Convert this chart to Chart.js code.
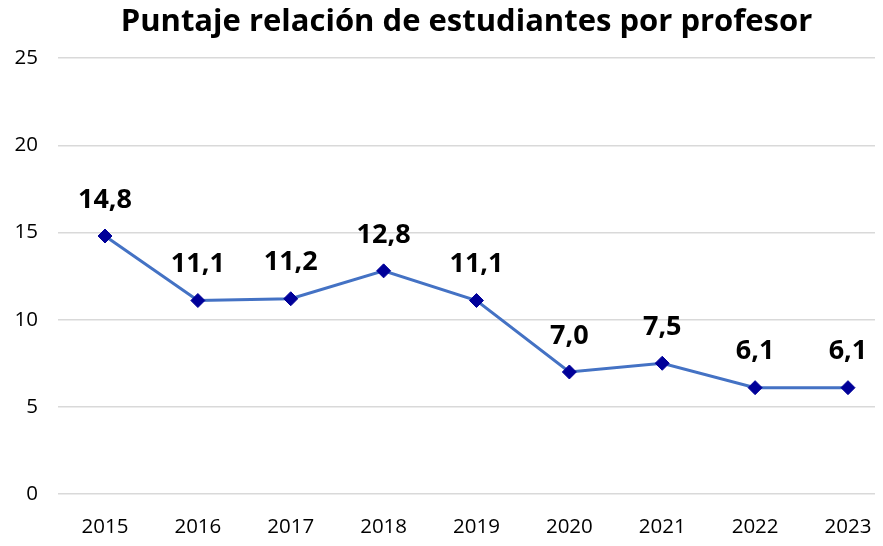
<!DOCTYPE html>
<html>
<head>
<meta charset="utf-8">
<script src="https://cdn.jsdelivr.net/npm/chart.js@4"></script>
<style>
  html, body { margin: 0; padding: 0; background: #fff; }
  #wrap { width: 883px; height: 546px; }
</style>
</head>
<body>
<div id="wrap"><canvas id="grafico"></canvas></div>
<script>
const anios = [2015, 2016, 2017, 2018, 2019, 2020, 2021, 2022, 2023];
const puntaje = [14.8, 11.1, 11.2, 12.8, 11.1, 7.0, 7.5, 6.1, 6.1];
const ticksY = [0, 5, 10, 15, 20, 25];

const fuente = "'Open Sans', Lato, sans-serif";

// etiquetas de datos encima de cada punto
const etiquetas = {
    id: "etiquetas",
    afterDatasetsDraw(chart) {
        const ctx = chart.ctx;
        const meta = chart.getDatasetMeta(0);
        ctx.save();
        ctx.font = "bold 27px " + fuente;
        ctx.fillStyle = "#000";
        ctx.textAlign = "center";
        ctx.textBaseline = "middle";
        meta.data.forEach((p, i) => {
            ctx.fillText(puntaje[i].toFixed(1).replace(".", ","), p.x, p.y - 36);
        });
        ctx.restore();
    }
};

new Chart(document.getElementById("grafico"), {
    type: "line",
    data: {
        datasets: [{
            data: anios.map((a, i) => ({ x: a, y: puntaje[i] })),
            borderColor: "#4472C4",
            borderWidth: 3,
            pointStyle: "rectRot",
            pointRadius: 7,
            pointBackgroundColor: "#000099",
            pointBorderColor: "#000099",
            pointBorderWidth: 1,
            tension: 0
        }]
    },
    options: {
        responsive: true,
        maintainAspectRatio: false,
        animation: false,
        layout: { padding: 0 },
        plugins: {
            legend: { display: false },
            tooltip: { enabled: false },
            title: {
                display: true,
                fullSize: false,
                text: "Puntaje relación de estudiantes por profesor",
                color: "#000",
                font: { family: fuente, size: 31, weight: "bold" },
                padding: { top: 4, bottom: 17 }
            }
        },
        scales: {
            x: {
                type: "linear",
                min: 2014.494,
                max: 2023.291,
                afterBuildTicks: s => { s.ticks = anios.map(a => ({ value: a })); },
                afterFit: s => { s.height = 52; },
                // sin rejilla; tickLength solo separa las etiquetas del área
                grid: { display: false, drawTicks: true, tickLength: 21 },
                border: { display: false },
                ticks: {
                    color: "#000",
                    font: { family: fuente, size: 20.5 },
                    padding: 0,
                    callback: v => String(v)
                }
            },
            y: {
                min: 0,
                max: 25,
                afterBuildTicks: s => { s.ticks = ticksY.map(v => ({ value: v })); },
                afterFit: s => { s.width = 58; },
                grid: { color: "#d9d9d9", lineWidth: 1.5, drawTicks: false },
                border: { display: false },
                ticks: {
                    color: "#000",
                    font: { family: fuente, size: 20.5 },
                    padding: 20
                }
            }
        }
    },
    plugins: [etiquetas]
});
</script>
</body>
</html>
